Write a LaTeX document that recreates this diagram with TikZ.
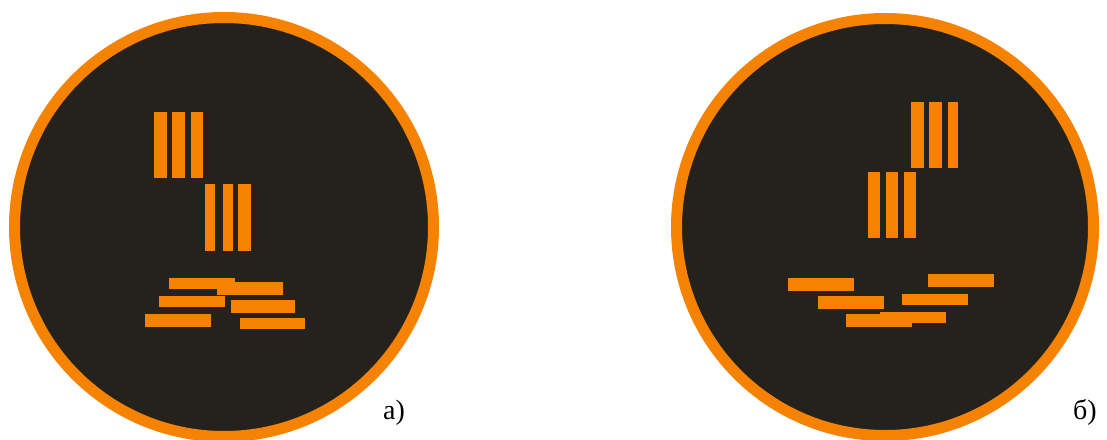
\documentclass[tikz,border=0pt]{standalone}
\usepackage{fontspec}
\setmainfont{Liberation Serif}
\definecolor{ringorange}{RGB}{245,130,0}
\definecolor{darkbg}{RGB}{37,34,30}
\tikzset{
  disc/.style={fill=darkbg, draw=ringorange, line width=11pt},
  bar/.style={fill=ringorange},
  lab/.style={font=\fontsize{28}{30}\selectfont, anchor=base, inner sep=0pt}
}
\begin{document}
\begin{tikzpicture}[x=1pt,y=-1pt]
\useasboundingbox (0,0) rectangle (1107,439);
\clip (0,0) rectangle (1107,439);
% left disc
\draw[disc] (224,227) circle (209.5);
% vertical bars, left
\fill[bar] (154,112) rectangle (167,178);
\fill[bar] (172,112) rectangle (185,178);
\fill[bar] (191,112) rectangle (203,178);
\fill[bar] (205,184) rectangle (215,251);
\fill[bar] (223,184) rectangle (233,251);
\fill[bar] (238,184) rectangle (251,251);
% horizontal bars, left
\fill[bar] (169,278) rectangle (235,289);
\fill[bar] (217,282) rectangle (283,295);
\fill[bar] (159,296) rectangle (225,307);
\fill[bar] (231,300) rectangle (295,313);
\fill[bar] (145,314) rectangle (211,327);
\fill[bar] (240,318) rectangle (305,329);
% right disc
\draw[disc] (885,227) circle (208.5);
% vertical bars, right
\fill[bar] (911,102) rectangle (924,168);
\fill[bar] (929,102) rectangle (942,168);
\fill[bar] (948,102) rectangle (958,168);
\fill[bar] (868,172) rectangle (880,238);
\fill[bar] (886,172) rectangle (898,238);
\fill[bar] (904,172) rectangle (916,238);
% horizontal bars, right
\fill[bar] (788,278) rectangle (854,291);
\fill[bar] (818,296) rectangle (884,309);
\fill[bar] (846,314) rectangle (912,327);
\fill[bar] (880,312) rectangle (946,323);
\fill[bar] (902,294) rectangle (968,305);
\fill[bar] (928,274) rectangle (994,287);
% labels
\node[lab] (la) at (394,419) {а)};
\node[lab] (lb) at (1085,419) {б)};
\end{tikzpicture}
\end{document}
